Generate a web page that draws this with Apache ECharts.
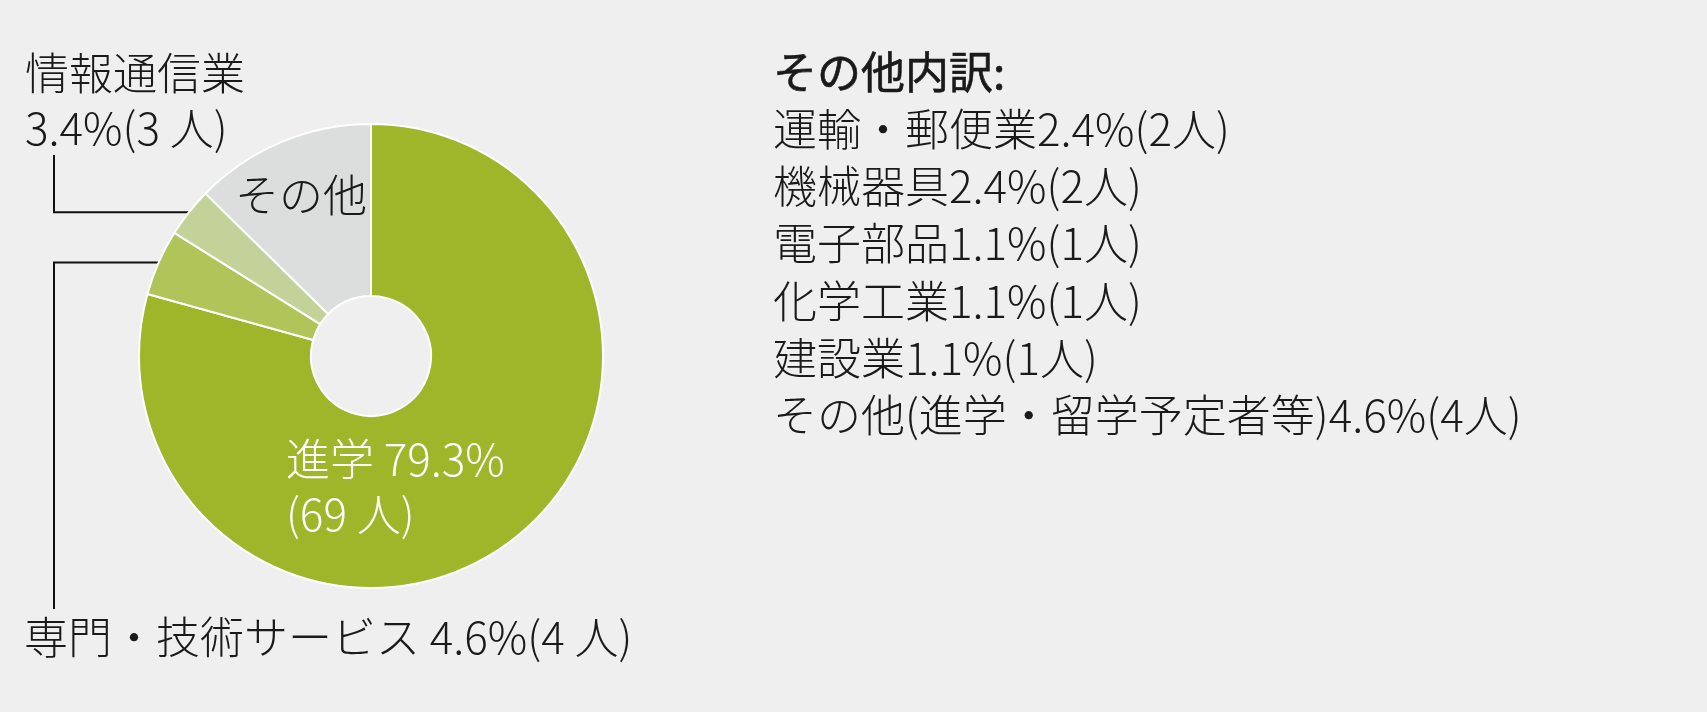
<!DOCTYPE html>
<html lang="ja">
<head>
<meta charset="UTF-8">
<title>卒業後の進路</title>
<script src="https://cdn.jsdelivr.net/npm/echarts@6/dist/echarts.min.js"></script>
<style>
  html, body { margin: 0; padding: 0; background: #efefef; }
  #chart { width: 1707px; height: 712px; }
</style>
</head>
<body>
<div id="chart"></div>
<script>
// 進路（人数と割合）
var names = ["進学", "専門・技術サービス", "情報通信業", "その他"];
var counts = [69, 4, 3, 11];
var pcts = ["79.3", "4.6", "3.4", "12.6"];

// その他内訳
var otherTitle = "その他内訳:";
var otherNames = ["運輸・郵便業", "機械器具", "電子部品", "化学工業", "建設業", "その他(進学・留学予定者等)"];
var otherPcts = ["2.4", "2.4", "1.1", "1.1", "1.1", "4.6"];
var otherCounts = [2, 2, 1, 1, 1, 4];

var colors = ["#9fb52a", "#b1c45a", "#c2d299", "#dcdedd"];
var FONT = "'Noto Sans CJK JP', 'Noto Sans', sans-serif";

// ラベルの置き場所（左端x, 中心y）と引出線の折れ位置
var labelPos = [
  { x: 286, y: 487 },
  { x: 24, y: 637 },
  { x: 25, y: 101 },
  { x: 235, y: 195 }
];
var elbowX = 54;
var lineEndY = [null, 609, 155, null];

function labelText(i) {
  if (i === 0) return names[i] + " " + pcts[i] + "%\n(" + counts[i] + " 人)";
  if (i === 1) return names[i] + " " + pcts[i] + "%(" + counts[i] + " 人)";
  if (i === 2) return names[i] + "\n" + pcts[i] + "%(" + counts[i] + " 人)";
  return names[i];
}

var pieData = names.map(function (n, i) {
  var item = { name: n, value: counts[i], itemStyle: { color: colors[i] } };
  if (i === 0 || i === 3) {
    item.label = { position: "inside", color: i === 0 ? "#ffffff" : "#1a1a1a" };
    item.labelLine = { show: false };
  }
  return item;
});

var listStep = 57.2;
var listTop = 72;
// 見出しは少しだけ太く（縁取りで中太に見せる）
var graphics = [{
  type: "text", x: 773, y: listTop,
  style: {
    text: otherTitle, fontSize: 44, fontFamily: FONT, fill: "#1a1a1a",
    stroke: "#1a1a1a", lineWidth: 0.6, verticalAlign: "middle"
  }
}];
otherNames.forEach(function (n, i) {
  graphics.push({
    type: "text", x: 773, y: listTop + (i + 1) * listStep,
    style: {
      text: n + otherPcts[i] + "%(" + otherCounts[i] + "人)",
      fontSize: 44, fontWeight: 300, fontFamily: FONT, fill: "#1a1a1a", verticalAlign: "middle"
    }
  });
});

var myChart = echarts.init(document.getElementById("chart"));
var option = {
  backgroundColor: "#efefef",
  animation: false,
  graphic: graphics,
  series: [{
    type: "pie",
    center: [371, 356],
    radius: [60, 232],
    startAngle: 90,
    clockwise: true,
    avoidLabelOverlap: false,
    silent: true,
    itemStyle: { borderColor: "#ffffff", borderWidth: 2 },
    label: {
      show: true,
      position: "outside",
      fontSize: 44,
      fontWeight: 300,
      lineHeight: 55,
      fontFamily: FONT,
      color: "#1a1a1a",
      formatter: function (p) { return labelText(p.dataIndex); }
    },
    labelLine: { show: true, length: 10, length2: 10, lineStyle: { color: "#111111", width: 2 } },
    labelLayout: function (p) {
      var i = p.dataIndex;
      var res = { x: labelPos[i].x, y: labelPos[i].y, align: "left", verticalAlign: "middle", hideOverlap: false };
      if (lineEndY[i] != null && p.labelLinePoints) {
        var p0 = p.labelLinePoints[0];
        res.labelLinePoints = [p0, [elbowX, p0[1]], [elbowX, lineEndY[i]]];
      }
      return res;
    },
    data: pieData
  }]
};
myChart.setOption(option);
</script>
</body>
</html>
